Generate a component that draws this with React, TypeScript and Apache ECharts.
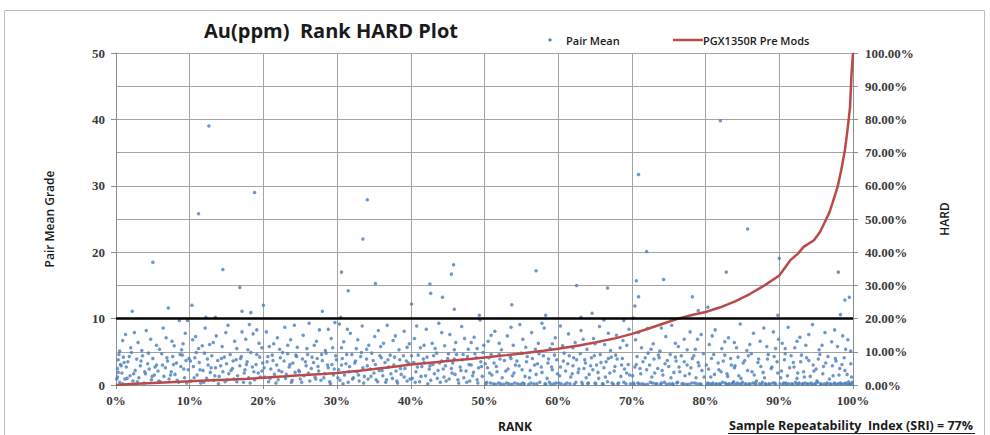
import React, { useEffect, useRef } from "react";
import * as echarts from "echarts";

// ---------- data ----------
// Pair mean grade points: [rank %, grade]
const bandLow: [number, number][] = [
  [0.2,1.2],[0.2,2.5],[0.3,3.8],[0.4,4.6],[0.5,0.4],[0.6,3.1],[0.8,1.8],[1.0,4.2],[1.2,0.9],[1.4,2.7],[1.6,3.5],[1.9,1.4],[2.1,4.9],[2.3,0.6],[2.6,2.2],[2.8,3.9],[3.1,1.1],[3.3,2.9],[3.6,4.4],[3.8,0.3],[4.0,1.7],[4.3,3.2],[4.5,2.4],[4.8,0.8],[5.0,4.0],[5.2,1.5],[5.5,3.0],[5.7,2.1],[6.0,0.5],[6.2,4.7],[6.5,1.3],[6.7,2.6],[7.0,3.6],[7.2,0.9],[7.5,2.0],[7.7,4.3],[8.0,1.6],[8.2,3.3],[8.5,0.4],[8.8,2.8],[9.0,4.5],[9.3,1.1],[9.5,3.7],[9.8,2.3],
  [10.2,0.6],[10.5,2.8],[10.7,4.1],[11.0,1.5],[11.3,3.4],[11.5,0.3],[11.8,2.2],[12.0,4.8],[12.3,1.0],[12.5,3.0],[12.8,1.9],[13.0,4.4],[13.3,0.7],[13.5,2.6],[13.8,3.7],[14.0,1.3],[14.3,4.0],[14.5,2.0],[14.8,0.5],[15.0,3.2],[15.3,1.7],[15.5,4.6],[15.8,2.5],[16.0,0.9],[16.3,3.8],[16.5,1.4],[16.8,2.9],[17.0,4.3],[17.3,0.4],[17.5,2.3],[17.8,3.5],[18.0,1.1],[18.3,4.9],[18.5,2.7],[18.8,0.8],[19.0,3.1],[19.3,1.8],[19.5,4.2],[19.8,2.1],
  [20.2,1.2],[20.5,3.5],[20.7,0.5],[21.0,2.4],[21.2,4.5],[21.5,1.6],[21.8,3.0],[22.0,0.8],[22.3,4.1],[22.5,2.0],[22.8,3.6],[23.0,1.0],[23.3,4.7],[23.5,2.7],[23.8,0.4],[24.0,3.3],[24.3,1.9],[24.5,4.3],[24.8,2.2],[25.0,0.9],[25.3,3.9],[25.5,1.4],[25.8,2.9],[26.0,4.6],[26.3,0.6],[26.5,2.5],[26.8,3.4],[27.0,1.2],[27.3,4.0],[27.5,2.1],[27.8,0.7],[28.0,3.7],[28.3,1.7],[28.5,4.8],[28.8,2.6],[29.0,0.5],[29.3,3.1],[29.5,1.5],[29.8,4.4],
  [30.2,2.3],[30.4,0.7],[30.7,4.0],[31.0,1.5],[31.2,3.2],[31.5,0.4],[31.7,2.8],[32.0,4.6],[32.2,1.1],[32.5,3.6],[32.7,2.0],[33.0,0.6],[33.2,4.3],[33.5,2.6],[33.7,1.3],[34.0,3.9],[34.2,0.9],[34.5,2.4],[34.7,4.8],[35.0,1.8],[35.2,3.1],[35.5,0.5],[35.7,2.2],[36.0,4.1],[36.2,1.4],[36.5,3.4],[36.7,0.8],[37.0,2.7],[37.2,4.5],[37.5,1.0],[37.7,3.0],[38.0,2.1],[38.2,0.3],[38.5,3.8],[38.7,1.6],[39.0,4.4],[39.2,2.5],[39.5,0.6],[39.7,3.3],
  [40.2,1.0],[40.4,3.4],[40.7,2.0],[41.0,4.5],[41.2,0.5],[41.5,2.8],[41.7,3.9],[42.0,1.4],[42.2,4.2],[42.5,2.4],[42.7,0.7],[43.0,3.1],[43.2,1.7],[43.5,4.8],[43.7,2.2],[44.0,0.4],[44.2,3.6],[44.5,1.2],[44.7,2.9],[45.0,4.0],[45.2,0.9],[45.5,2.5],[45.7,3.3],[46.0,1.6],[46.2,4.6],[46.5,0.3],[46.7,2.7],[47.0,3.8],[47.2,1.1],[47.5,2.1],[47.7,4.3],[48.0,0.6],[48.2,3.0],[48.5,1.9],[48.7,4.7],[49.0,0.8],[49.2,2.6],[49.5,3.5],[49.7,1.3],
  [50.2,0.2],[50.4,2.6],[50.6,4.1],[50.8,0.3],[51.0,1.5],[51.3,3.3],[51.5,0.1],[51.7,2.0],[52.0,4.6],[52.2,0.2],[52.4,1.1],[52.7,3.7],[53.0,0.3],[53.2,2.4],[53.5,4.3],[53.7,0.1],[54.0,1.8],[54.2,3.0],[54.5,0.2],[54.7,2.9],[55.0,4.8],[55.2,0.3],[55.5,1.3],[55.7,3.5],[56.0,0.1],[56.2,2.2],[56.5,4.0],[56.7,0.2],[57.0,1.6],[57.2,3.2],[57.5,0.4],[57.7,2.7],[58.0,4.4],[58.2,0.2],[58.5,1.0],[58.7,3.9],[59.0,0.1],[59.2,2.3],[59.5,4.5],[59.7,0.3],[59.9,1.7],
  [60.2,1.4],[60.4,0.2],[60.7,3.6],[61.0,2.1],[61.2,0.3],[61.5,4.4],[61.7,1.2],[62.0,2.9],[62.2,0.1],[62.5,3.8],[62.7,1.9],[63.0,4.7],[63.2,0.4],[63.5,2.5],[63.7,3.3],[64.0,0.2],[64.2,1.6],[64.5,4.1],[64.7,2.3],[65.0,0.3],[65.2,3.0],[65.5,1.0],[65.7,4.6],[66.0,0.2],[66.2,2.6],[66.5,3.5],[66.7,0.5],[67.0,1.8],[67.2,4.2],[67.5,0.1],[67.7,2.8],[68.0,3.9],[68.2,0.3],[68.5,1.3],[68.7,4.0],[69.0,2.4],[69.2,0.2],[69.5,3.1],[69.7,1.5],
  [70.2,0.3],[70.4,2.7],[70.7,4.3],[71.0,0.2],[71.2,1.7],[71.5,3.5],[71.7,0.1],[72.0,2.3],[72.2,4.8],[72.5,0.4],[72.7,1.2],[73.0,3.9],[73.2,0.2],[73.5,2.5],[73.7,4.1],[74.0,0.3],[74.2,1.5],[74.5,3.2],[74.7,0.1],[75.0,2.8],[75.2,4.6],[75.5,0.2],[75.7,1.9],[76.0,3.6],[76.2,0.4],[76.5,2.0],[76.7,4.4],[77.0,0.2],[77.2,1.4],[77.5,3.0],[77.7,0.1],[78.0,2.6],[78.2,4.0],[78.5,0.3],[78.7,1.1],[79.0,3.4],[79.2,0.2],[79.5,2.2],[79.7,4.7],
  [80.2,0.1],[80.4,2.4],[80.6,0.2],[80.8,4.0],[81.0,0.3],[81.2,1.6],[81.4,0.1],[81.7,3.3],[81.9,0.2],[82.1,2.0],[82.3,0.4],[82.6,4.5],[82.8,0.1],[83.0,1.3],[83.2,0.2],[83.5,3.0],[83.7,0.3],[83.9,2.6],[84.1,0.1],[84.4,4.2],[84.6,0.2],[84.8,1.0],[85.0,0.4],[85.3,3.7],[85.5,0.1],[85.7,2.2],[85.9,0.2],[86.2,4.7],[86.4,0.3],[86.6,1.5],[86.8,0.1],[87.1,3.4],[87.3,0.2],[87.5,2.8],[87.7,0.4],[88.0,1.1],[88.2,0.1],[88.4,3.9],[88.6,0.2],[88.9,2.5],[89.1,0.3],[89.3,4.3],[89.5,0.1],[89.8,1.8],
  [90.1,0.2],[90.3,2.1],[90.5,0.1],[90.7,3.8],[90.9,0.3],[91.1,1.4],[91.3,0.2],[91.6,4.4],[91.8,0.1],[92.0,2.7],[92.2,0.4],[92.4,1.0],[92.6,0.2],[92.9,3.5],[93.1,0.1],[93.3,2.0],[93.5,0.3],[93.7,4.1],[93.9,0.2],[94.2,1.3],[94.4,0.1],[94.6,3.0],[94.8,0.2],[95.0,2.4],[95.2,0.4],[95.5,4.6],[95.7,0.1],[95.9,1.7],[96.1,0.2],[96.3,3.3],[96.5,0.3],[96.8,0.9],[97.0,0.1],[97.2,2.9],[97.4,0.2],[97.6,4.0],[97.8,0.1],[98.1,1.5],[98.3,0.3],[98.5,3.1],[98.7,0.2],[98.9,2.2],[99.1,0.1],[99.4,0.5],[99.6,0.2],[99.8,1.2],[99.9,0.1],
];

const bandLow2: [number, number][] = [
  [0.1,0.9],[0.3,1.9],[0.7,2.9],[0.9,0.2],[1.1,3.4],[1.5,1.0],[1.8,4.3],[2.4,1.7],[2.9,0.5],[3.4,3.6],[3.9,2.0],[4.4,4.8],[4.9,1.3],[5.3,2.7],[5.8,0.6],[6.3,3.0],[6.9,4.1],[7.4,1.5],[7.8,3.1],[8.3,0.7],[8.7,4.6],[9.2,2.4],[9.6,0.3],[9.9,4.0],
  [10.1,3.6],[10.6,1.1],[10.9,4.9],[11.4,2.3],[11.9,0.4],[12.4,3.9],[12.9,2.6],[13.4,1.4],[13.9,0.2],[14.2,2.9],[14.7,4.2],[15.1,0.8],[15.6,2.2],[15.9,3.6],[16.4,0.5],[16.9,4.0],[17.4,1.8],[17.7,3.1],[18.2,0.3],[18.7,2.0],[19.1,4.6],[19.6,1.2],[19.9,3.3],
  [20.1,2.6],[20.6,4.3],[20.9,1.0],[21.3,3.7],[21.7,0.3],[22.1,2.2],[22.6,4.9],[23.1,1.6],[23.6,3.1],[23.9,0.7],[24.4,4.5],[24.9,2.0],[25.2,0.4],[25.7,3.5],[26.1,1.8],[26.6,4.2],[27.1,0.9],[27.4,2.8],[27.9,4.6],[28.2,1.1],[28.7,3.0],[29.1,0.2],[29.6,2.4],[29.9,3.8],
  [30.1,1.1],[30.6,3.0],[30.8,0.2],[31.3,4.6],[31.6,2.0],[32.1,0.9],[32.4,3.3],[32.9,1.5],[33.3,4.9],[33.6,0.3],[34.1,2.9],[34.6,1.3],[34.9,3.7],[35.3,0.8],[35.8,4.4],[36.1,2.2],[36.6,0.4],[36.9,3.8],[37.3,1.7],[37.8,4.2],[38.1,0.6],[38.6,2.5],[39.1,1.2],[39.4,3.6],[39.9,0.9],
  [40.1,4.4],[40.6,0.4],[40.9,2.7],[41.4,1.3],[41.8,3.4],[42.3,0.2],[42.6,2.9],[43.1,4.4],[43.6,1.0],[43.9,3.3],[44.4,2.4],[44.8,0.6],[45.1,4.7],[45.6,1.8],[45.9,3.9],[46.4,0.8],[46.8,2.2],[47.1,4.6],[47.6,0.4],[47.9,3.1],[48.4,1.4],[48.9,4.1],[49.1,0.3],[49.6,2.8],[49.8,4.9],
  [50.1,3.2],[50.3,0.4],[50.7,1.8],[50.9,4.6],[51.2,0.2],[51.6,2.8],[51.9,0.3],[52.1,3.9],[52.6,0.1],[52.9,2.1],[53.3,0.2],[53.6,4.0],[53.8,1.4],[54.1,0.3],[54.4,3.6],[54.9,0.1],[55.1,2.3],[55.4,0.2],[55.8,4.3],[56.1,1.1],[56.3,0.3],[56.8,3.0],[57.1,0.2],[57.4,4.7],[57.8,1.9],[58.3,0.1],[58.6,3.3],[58.8,0.4],[59.1,2.7],[59.4,0.2],[59.8,3.8],
  [60.1,0.3],[60.3,2.7],[60.8,4.8],[60.9,0.1],[61.3,3.2],[61.6,0.2],[61.9,1.7],[62.1,4.1],[62.4,0.4],[62.8,2.4],[63.3,0.1],[63.6,3.8],[63.8,1.1],[64.1,0.3],[64.4,2.9],[64.9,4.4],[65.1,0.2],[65.4,1.9],[65.8,3.4],[66.1,0.1],[66.4,1.2],[66.8,4.0],[67.3,0.3],[67.6,2.1],[67.8,4.5],[68.1,0.2],[68.6,3.0],[68.9,0.4],[69.3,1.8],[69.8,0.2],
  [70.1,1.4],[70.3,0.1],[70.6,3.1],[70.8,0.3],[71.1,2.5],[71.4,0.2],[71.8,4.1],[72.1,0.1],[72.4,3.0],[72.8,0.3],[73.1,1.8],[73.4,0.2],[73.6,4.5],[73.9,0.1],[74.1,2.2],[74.4,0.4],[74.8,3.7],[75.1,0.2],[75.3,1.1],[75.6,0.1],[75.9,4.2],[76.1,0.3],[76.4,2.7],[76.8,0.2],[77.1,3.5],[77.4,0.1],[77.8,1.7],[78.1,0.3],[78.4,4.4],[78.8,0.2],[79.1,2.9],[79.4,0.1],[79.8,1.2],
  [80.1,3.0],[80.3,0.3],[80.7,1.2],[80.9,0.1],[81.1,4.6],[81.5,0.2],[81.8,2.3],[82.0,0.1],[82.4,3.6],[82.7,0.3],[82.9,1.7],[83.1,0.1],[83.4,4.0],[83.6,0.2],[83.8,0.5],[84.0,2.9],[84.3,0.3],[84.5,1.4],[84.9,0.1],[85.1,3.3],[85.4,0.2],[85.8,4.4],[86.0,0.1],[86.3,2.0],[86.7,0.3],[86.9,0.6],[87.2,3.9],[87.6,0.1],[87.8,1.9],[88.1,0.2],[88.5,4.6],[88.7,0.1],[89.0,2.7],[89.4,0.3],[89.7,3.5],
  [90.2,1.1],[90.6,0.3],[90.8,4.7],[91.0,0.1],[91.4,2.6],[91.7,0.2],[91.9,3.4],[92.3,0.1],[92.5,1.8],[92.7,0.3],[93.0,4.5],[93.2,0.2],[93.4,1.2],[93.8,0.1],[94.0,3.7],[94.3,0.3],[94.7,2.1],[94.9,0.1],[95.1,0.6],[95.3,3.9],[95.6,0.2],[96.0,2.8],[96.4,0.1],[96.6,4.3],[96.9,0.2],[97.3,1.4],[97.5,0.3],[97.7,3.6],[98.0,0.2],[98.2,2.5],[98.4,0.1],[98.8,4.1],[99.0,0.3],[99.2,1.6],[99.5,0.1],[99.7,3.2],[99.9,0.4],
];

const bandMid: [number, number][] = [
  [1.3,7.6],[2.0,5.6],[3.0,6.4],[3.5,5.2],[4.1,8.2],[4.7,6.9],[5.9,5.4],[6.8,7.1],[7.9,5.9],[8.6,9.7],[9.7,9.7],[9.1,6.2],
  [10.4,6.8],[11.2,5.5],[12.1,8.6],[12.7,6.1],[13.6,7.4],[14.4,5.8],[15.2,9.0],[16.1,6.6],[17.1,8.0],[17.9,5.3],[18.6,7.7],[19.4,6.3],[18.1,9.1],
  [20.4,8.0],[21.4,6.2],[22.2,5.4],[22.9,8.7],[23.7,6.8],[24.6,5.7],[25.4,7.5],[26.2,9.3],[26.9,6.0],[27.6,8.3],[28.4,5.2],[29.2,7.0],[29.7,9.4],
  [30.3,9.2],[30.9,6.5],[31.8,7.8],[32.6,5.5],[33.4,8.9],[34.3,6.0],[35.1,7.3],[35.9,5.8],[36.8,9.0],[37.6,6.7],[38.4,5.3],[39.1,8.1],[39.8,6.2],
  [40.5,7.0],[41.3,5.6],[42.1,8.4],[42.9,6.3],[43.8,9.3],[44.6,5.9],[45.3,7.6],[46.1,6.4],[46.9,8.8],[47.8,5.4],[48.6,7.2],[49.4,9.8],[49.9,6.0],
  [50.5,6.6],[51.4,8.1],[52.3,5.3],[53.1,7.4],[53.9,6.0],[54.8,9.1],[55.6,5.7],[56.4,7.9],[57.3,6.3],[58.1,8.6],[58.9,5.5],[59.6,7.1],
  [60.6,5.9],[61.4,7.7],[62.3,6.4],[63.1,8.2],[63.9,5.4],[64.8,7.0],[65.6,8.8],[66.3,6.1],[67.1,5.2],[67.9,7.5],[68.8,6.7],[69.6,8.4],
  [70.5,6.8],[71.3,5.6],[72.1,8.5],[72.9,6.2],[73.8,5.1],[74.6,7.3],[75.4,9.0],[76.3,5.8],[77.1,6.9],[77.9,8.0],[78.6,5.4],[79.4,7.6],
  [80.5,6.1],[81.3,8.3],[82.2,5.5],[83.1,7.1],[83.9,6.4],[84.7,9.2],[85.6,5.2],[86.5,7.8],[87.4,6.6],[88.3,5.8],[89.2,8.0],[89.9,6.9],
  [90.4,6.3],[91.2,8.7],[92.1,5.6],[92.8,7.2],[93.6,6.0],[94.5,9.1],[95.4,5.3],[96.2,7.9],[97.1,6.5],[97.9,5.8],[98.6,7.4],[99.3,6.8],[99.7,5.1],
];

const bandMid2: [number, number][] = [
  [0.5,5.1],[0.9,6.7],[2.5,7.9],[5.5,6.0],[6.4,8.6],[7.6,6.6],[8.9,5.3],[9.4,7.8],
  [10.8,7.3],[11.7,5.9],[13.2,6.4],[14.9,7.9],[16.4,5.5],[17.6,6.9],[19.1,8.3],[19.8,5.6],
  [20.8,5.8],[21.9,7.1],[23.3,6.0],[24.2,9.0],[25.9,5.5],[27.2,6.6],[28.8,8.4],[29.4,5.6],
  [30.6,5.6],[31.4,8.4],[32.8,6.8],[34.0,5.4],[35.6,8.2],[36.3,6.3],[37.9,7.4],[39.5,5.7],
  [40.8,8.9],[41.8,6.0],[43.3,5.5],[44.2,7.9],[45.9,5.3],[47.3,7.0],[48.2,6.4],[49.0,5.5],
  [50.9,7.5],[52.0,6.3],[53.6,8.7],[55.2,6.9],[56.9,5.4],[57.8,9.3],[59.2,6.2],
  [60.3,8.9],[62.0,5.6],[63.4,6.9],[65.0,6.2],[66.8,7.8],[68.4,5.6],[69.3,6.0],
  [70.9,7.9],[72.6,5.4],[74.0,8.6],[75.9,6.3],[77.5,5.3],[78.9,6.9],
  [80.9,7.4],[82.6,6.5],[84.2,5.6],[86.0,6.1],[87.9,8.6],[89.5,5.5],
  [90.8,5.5],[92.4,6.6],[94.0,7.6],[95.8,6.0],[97.5,8.3],[99.0,5.4],
];

const outliers: [number, number][] = [
  [2.2,11.1],[5.0,18.5],[7.1,11.6],[10.3,12.0],[11.2,25.8],[12.2,10.2],[12.6,39.0],[13.5,10.2],[14.5,17.4],[16.8,14.7],[17.1,11.1],[18.3,10.9],[18.8,29.0],[20.0,12.0],[28.0,11.1],[30.5,10.2],[30.6,17.0],[31.5,14.2],[33.5,22.0],[34.1,27.9],[35.2,15.3],[40.1,12.2],[42.6,15.2],[42.7,13.8],[44.3,13.2],[45.5,16.7],[45.8,18.1],[45.9,11.4],[49.3,10.5],[53.7,12.1],[57.0,17.2],[58.3,10.5],[62.5,15.0],[63.1,10.2],[64.6,10.8],[66.2,9.8],[66.7,14.6],[68.9,9.7],[70.2,10.1],[70.4,11.9],[70.6,15.7],[70.9,13.3],[70.9,31.7],[72.0,20.1],[74.3,15.9],[78.2,13.3],[79.0,11.2],[80.3,11.7],[82.0,39.8],[82.8,17.0],[85.7,23.5],[89.8,10.5],[90.0,19.1],[98.0,17.0],[98.3,10.6],[98.9,12.8],[99.5,13.2],
];

// HARD curve (rank %, HARD %)
const hardRank = [0,2,5,8,10,13,15,18,20,23,25,28,30,33,35,38,40,43,45,48,50,53,55,58,60,63,65,68,70,72,74,76,78,80,82,84,86,88,90,91.5,92.5,93.3,94.7,95.5,96.1,96.8,97.2,97.9,98.4,98.9,99.3,99.6,99.8,100];
const hardValue = [0,0.3,0.6,0.9,1.1,1.4,1.6,1.9,2.2,2.6,2.9,3.3,3.6,4.3,4.8,5.6,6.2,6.8,7.2,7.8,8.3,9.0,9.5,10.3,10.9,12.0,12.8,14.2,15.4,16.8,18.3,19.8,21.0,22.0,23.4,25.2,27.4,30.0,33.0,37.6,39.5,41.6,43.6,46.0,48.7,52.0,54.7,59.6,64.7,70.7,77.7,83.7,93.8,100];

const threshold = 10;
const titleText = "Au(ppm)  Rank HARD Plot";
const seriesNames = ["Pair Mean", "PGX1350R Pre Mods"];
const sriText = "Sample Repeatability  Index (SRI) = 77%";

export default function App() {
  const ref = useRef<HTMLDivElement>(null);

  useEffect(() => {
    document.body.style.margin = "0";
    if (!ref.current) return;
    const chart = echarts.init(ref.current, null, { renderer: "svg" });

    const gridColor = "#a3a3a3";
    const labelStyle = {
      fontFamily: "Liberation Serif",
      fontWeight: "bold" as const,
      fontSize: 13,
      color: "#3a3a3a",
    };
    const nameStyle = {
      fontFamily: "Open Sans",
      fontWeight: 600,
      fontSize: 12,
      color: "#1a1a1a",
    };

    const option: any = {
      animation: false,
      backgroundColor: "#ffffff",
      grid: { left: 116, right: 137, top: 53, bottom: 50 },
      xAxis: {
        type: "value",
        min: 0,
        max: 100,
        interval: 10,
        axisLine: { lineStyle: { color: "#8c8c8c" } },
        axisTick: { show: true, length: 4, lineStyle: { color: "#8c8c8c" } },
        axisLabel: { ...labelStyle, margin: 9, formatter: "{value}%" },
        splitLine: { show: true, lineStyle: { color: gridColor, width: 1 } },
      },
      yAxis: [
        {
          type: "value",
          min: 0,
          max: 50,
          interval: 10,
          name: "Pair Mean Grade",
          nameLocation: "middle",
          nameGap: 61,
          nameRotate: 90,
          nameTextStyle: nameStyle,
          axisLine: { show: true, lineStyle: { color: "#8c8c8c" } },
          axisTick: { show: true, length: 5, lineStyle: { color: "#8c8c8c" } },
          axisLabel: { ...labelStyle, margin: 11 },
          splitLine: { show: true, lineStyle: { color: gridColor, width: 1 } },
          minorTick: { show: false, splitNumber: 2 },
          minorSplitLine: { show: true, lineStyle: { color: gridColor, width: 1 } },
        },
        {
          type: "value",
          position: "right",
          min: 0,
          max: 100,
          interval: 10,
          name: "HARD",
          nameLocation: "middle",
          nameGap: 85,
          nameRotate: 90,
          nameTextStyle: nameStyle,
          axisLine: { show: true, lineStyle: { color: "#8c8c8c" } },
          axisTick: { show: true, length: 5, lineStyle: { color: "#8c8c8c" } },
          axisLabel: {
            ...labelStyle,
            margin: 12,
            formatter: (v: number) => v.toFixed(2) + "%",
          },
          splitLine: { show: false },
        },
      ],
      series: [
        {
          name: seriesNames[0],
          type: "scatter",
          symbol: "circle",
          symbolSize: 3.5,
          itemStyle: { color: "#4a7ebb" },
          data: [...bandLow, ...bandLow2, ...bandMid, ...bandMid2, ...outliers],
          z: 3,
          markLine: {
            silent: true,
            symbol: "none",
            label: { show: false },
            lineStyle: { color: "#000000", width: 2.5, type: "solid" },
            data: [{ yAxis: threshold }],
          },
        },
        {
          name: seriesNames[1],
          type: "line",
          yAxisIndex: 1,
          showSymbol: false,
          symbol: "none",
          lineStyle: { color: "#b94a47", width: 2.5 },
          data: hardRank.map((r, i) => [r, hardValue[i]]),
          z: 4,
        },
      ],
      graphic: [
        {
          type: "rect",
          silent: true,
          z: -10,
          shape: { x: 4.5, y: 10.5, width: 980, height: 440 },
          style: { fill: "none", stroke: "#bdbdbd", lineWidth: 1 },
        },
        {
          type: "text",
          style: {
            text: titleText,
            x: 331,
            y: 30,
            textAlign: "center",
            textVerticalAlign: "middle",
            font: "bold 20px 'Open Sans'",
            fill: "#1a1a1a",
          },
        },
        {
          type: "circle",
          shape: { cx: 550, cy: 40, r: 1.6 },
          style: { fill: "#4a7ebb" },
        },
        {
          type: "text",
          style: {
            text: seriesNames[0],
            x: 566,
            y: 40,
            textAlign: "left",
            textVerticalAlign: "middle",
            font: "600 11px 'Open Sans'",
            fill: "#1a1a1a",
          },
        },
        {
          type: "line",
          shape: { x1: 673, y1: 40, x2: 703, y2: 40 },
          style: { stroke: "#b94a47", lineWidth: 2.5 },
        },
        {
          type: "text",
          style: {
            text: seriesNames[1],
            x: 703,
            y: 40,
            textAlign: "left",
            textVerticalAlign: "middle",
            font: "600 11px 'Open Sans'",
            fill: "#1a1a1a",
          },
        },
        {
          type: "text",
          style: {
            text: "RANK",
            x: 515,
            y: 426,
            textAlign: "center",
            textVerticalAlign: "middle",
            font: "bold 12px 'Open Sans'",
            fill: "#1a1a1a",
          },
        },
        {
          type: "text",
          style: {
            text: sriText,
            x: 851,
            y: 425,
            textAlign: "center",
            textVerticalAlign: "middle",
            font: "bold 12.5px 'Open Sans'",
            fill: "#1a1a1a",
          },
        },
        {
          type: "line",
          shape: { x1: 728, y1: 433.5, x2: 975, y2: 433.5 },
          style: { stroke: "#1a1a1a", lineWidth: 1 },
        },
      ],
    };

    chart.setOption(option);
    return () => chart.dispose();
  }, []);

  return <div ref={ref} style={{ width: 990, height: 435 }} />;
}
